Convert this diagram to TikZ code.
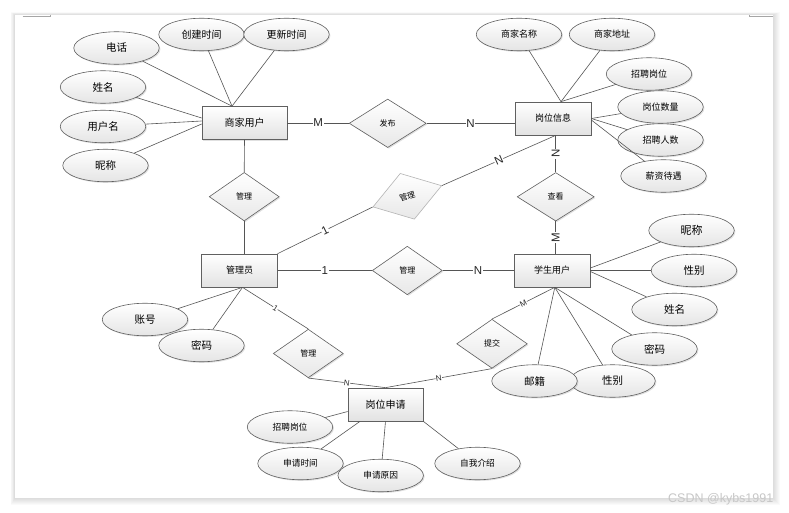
\documentclass[tikz,border=0pt]{standalone}
\usepackage{fontspec}
\setmainfont{Liberation Sans}
\newfontfamily\cjk{Noto Sans CJK SC}
\usetikzlibrary{shapes.geometric,calc,shadows}
\definecolor{edgec}{HTML}{555555}
\definecolor{bordc}{HTML}{606060}
\definecolor{shadec}{HTML}{E2E2E2}
\definecolor{lightb}{HTML}{B4B4B4}
\tikzset{
  fsz/.style={font={\cjk\fontsize{#1}{#1}\selectfont}},
  shad/.style={drop shadow={shadow xshift=1.2pt,shadow yshift=-1.2pt,fill=black,opacity=0.12}},
  entbox/.style={rectangle, draw=bordc, line width=0.7pt, top color=white, bottom color=shadec,
     minimum height=33, inner sep=0pt, shad},
  attrell/.style={ellipse, draw=bordc, line width=0.6pt, top color=white, bottom color=shadec!90,
     minimum width=85.5, minimum height=32.5, inner sep=0pt, shad},
  relbox/.style={diamond, draw=bordc, line width=0.6pt, top color=white, bottom color=shadec!80,
     minimum width=70, minimum height=48.5, inner sep=0pt, shad},
  relpale/.style={diamond, draw=lightb, line width=0.6pt, top color=white, bottom color=shadec!80,
     minimum width=72, minimum height=48, inner sep=0pt},
  conn/.style={draw=edgec, line width=0.6pt},
  biglab/.style={font={\fontsize{11.5}{12}\selectfont}, fill=white, inner sep=0.6pt, text=black!85},
  smalllab/.style={font={\fontsize{8}{9}\selectfont}, fill=white, inner sep=0.3pt, text=black!85},
}
\begin{document}
\begin{tikzpicture}[x=1pt,y=-1pt]
\useasboundingbox (0,0) rectangle (789,513);
% page with soft shadow
\foreach \i in {1,...,7}{
  \fill[black, opacity=0.018] (15-\i*0.6,15-\i*0.4) rectangle (773.3+\i,497.7+\i);
}
\fill[white] (15,15) rectangle (773.3,497.7);
\draw[black!35, line width=0.6pt] (22.7,16.7) -- (50.7,16.7) -- (50.7,15);
\draw[black!35, line width=0.6pt] (773.3,16.2) -- (749.3,16.2) -- (749.3,15);
\node[anchor=east, text=black!22, font={\fontsize{12.5}{14}\selectfont}, inner sep=0pt] (wm) at (773.5,499.5) {CSDN @kybs1991};

% entities
\node[entbox, minimum width=85, fsz=10] (shop) at (244.5,123) {商家用户};
\node[entbox, minimum width=76, fsz=9] (job) at (553,118.5) {岗位信息};
\node[entbox, minimum width=75.5, fsz=9] (admin) at (239.5,270.5) {管理员};
\node[entbox, minimum width=76, fsz=9] (stu) at (552,270.5) {学生用户};
\node[entbox, minimum width=75, fsz=10] (app) at (385.5,404.5) {岗位申请};

% relations
\node[relbox, minimum width=77, fsz=8] (pub) at (387.7,123.3) {发布};
\node[relbox, fsz=8] (mgrA) at (244.2,196.7) {管理};
\node[relbox, minimum width=77, fsz=8] (view) at (555.7,196.8) {查看};
\node[relpale, rotate=17.2, fsz=8] (mgrR) at (407.3,196.3) {管理};
\node[relbox, fsz=8] (mgrM) at (407.3,270.5) {管理};
\node[relbox, fsz=8] (mgrB) at (308.3,353.5) {管理};
\node[relbox, minimum width=70.6, minimum height=49, fsz=8] (sub) at (492,343.8) {提交};

% attributes of 商家用户
\node[attrell, fsz=10.5] (sTel) at (116.5,48) {电话};
\node[attrell, fsz=10] (sCre) at (201.5,34.5) {创建时间};
\node[attrell, fsz=10] (sUpd) at (286.5,34.5) {更新时间};
\node[attrell, fsz=10.5] (sName) at (103,87) {姓名};
\node[attrell, fsz=10.5] (sUser) at (103,126.5) {用户名};
\node[attrell, fsz=10.5] (sNick) at (105.5,165.5) {昵称};
% attributes of 岗位信息
\node[attrell, fsz=9] (jShop) at (519,34.5) {商家名称};
\node[attrell, fsz=9] (jAddr) at (612,34.5) {商家地址};
\node[attrell, fsz=9] (jPos) at (649,74) {招聘岗位};
\node[attrell, fsz=9] (jCnt) at (660.5,107) {岗位数量};
\node[attrell, fsz=9] (jNum) at (660.5,140) {招聘人数};
\node[attrell, fsz=9] (jPay) at (663.5,176) {薪资待遇};
% attributes of 管理员
\node[attrell, fsz=10.5] (aAcc) at (145,319.5) {账号};
\node[attrell, fsz=10.5] (aPwd) at (201.5,345.5) {密码};
% attributes of 学生用户
\node[attrell, fsz=11] (uNick) at (691.5,230.5) {昵称};
\node[attrell, fsz=10.5] (uSex) at (694,270.5) {性别};
\node[attrell, fsz=10.5] (uName) at (674.5,309.5) {姓名};
\node[attrell, fsz=10.5] (uPwd) at (654.5,349) {密码};
\node[attrell, fsz=10.5] (uSex2) at (612.5,381) {性别};
\node[attrell, fsz=10.5] (uMail) at (534.5,381) {邮籍};
% attributes of 岗位申请
\node[attrell, fsz=8.7] (pPos) at (290,427) {招聘岗位};
\node[attrell, fsz=8.7] (pTime) at (300.5,463.5) {申请时间};
\node[attrell, fsz=8.7] (pWhy) at (380.7,475.5) {申请原因};
\node[attrell, fsz=8.7] (pSelf) at (477.5,463.5) {自我介绍};

% connection points on entity borders
\coordinate (shopTop) at ($(shop.north)+(-12.5,0)$);
\coordinate (jobTop) at ($(job.north)+(8,0)$);
\coordinate (jobBot) at ($(job.south)+(2.7,0)$);
\coordinate (stuBot) at ($(stu.south)+(2.8,0)$);
\coordinate (admBot) at ($(admin.south)+(3,0)$);

% attribute lines
\draw[conn] (sTel) -- (shopTop);
\draw[conn] (sCre) -- (shopTop);
\draw[conn] (sUpd) -- (shopTop);
\draw[conn] (sName) -- ($(shop.west)+(0,-5)$);
\draw[conn] (sUser) -- ($(shop.west)+(0,-2)$);
\draw[conn] (sNick) -- ($(shop.west)+(0,1)$);
\draw[conn] (jShop) -- (jobTop);
\draw[conn] (jAddr) -- (jobTop);
\draw[conn] (jPos) -- (jobTop);
\draw[conn] (jCnt) -- (job.east);
\draw[conn] (jNum) -- (job.east);
\draw[conn] (jPay) -- ($(job.east)+(0,1.5)$);
\draw[conn] (aAcc) -- (admBot);
\draw[conn] (aPwd) -- (admBot);
\draw[conn] (uNick) -- ($(stu.east)+(0,-2.5)$);
\draw[conn] (uSex) -- (stu.east);
\draw[conn] (uName) -- ($(stu.east)+(0,1)$);
\draw[conn] (uPwd) -- (stuBot);
\draw[conn] (uSex2) -- (stuBot);
\draw[conn] (uMail) -- (stuBot);
\draw[conn] (pPos) -- ($(app.west)+(0,7)$);
\draw[conn] (pTime) -- ($(app.south)+(-25.5,0)$);
\draw[conn] (pWhy) -- (app.south);
\draw[conn] (pSelf) -- (app.south east);

% relationship lines
\draw[conn] (shop.east) -- node[biglab] (lM1) {M} (shop.east -| pub.west);
\draw[conn] (pub.east) -- node[biglab] (lN1) {N} (pub.east -| job.west);
\draw[conn] (jobBot) -- node[biglab, rotate=90] (lN2) {N} (view.north);
\draw[conn] (view.south) -- node[biglab, rotate=90] (lM2) {M} (view.south |- stu.north);
\draw[conn] (shop.south) -- (mgrA.north);
\draw[conn] (mgrA.south) -- (mgrA.south |- admin.north);
\draw[conn] (admin.north east) -- node[biglab, sloped] (l1a) {1} (mgrR.west);
\draw[conn] (mgrR.east) -- node[biglab, sloped] (lN3) {N} (jobBot);
\draw[conn] (admin.east) -- node[biglab] (l1b) {1} (mgrM.west);
\draw[conn] (mgrM.east) -- node[biglab] (lN4) {N} (stu.west);
\draw[conn] (admBot) -- node[smalllab, sloped] (l1c) {1} (mgrB.north);
\draw[conn] (mgrB.south) -- node[smalllab, sloped] (lN5) {N} (app.north);
\draw[conn] (stuBot) -- node[smalllab, sloped] (lM3) {M} (sub.north);
\draw[conn] (sub.south) -- node[smalllab, sloped] (lN6) {N} (app.north);
\end{tikzpicture}
\end{document}
